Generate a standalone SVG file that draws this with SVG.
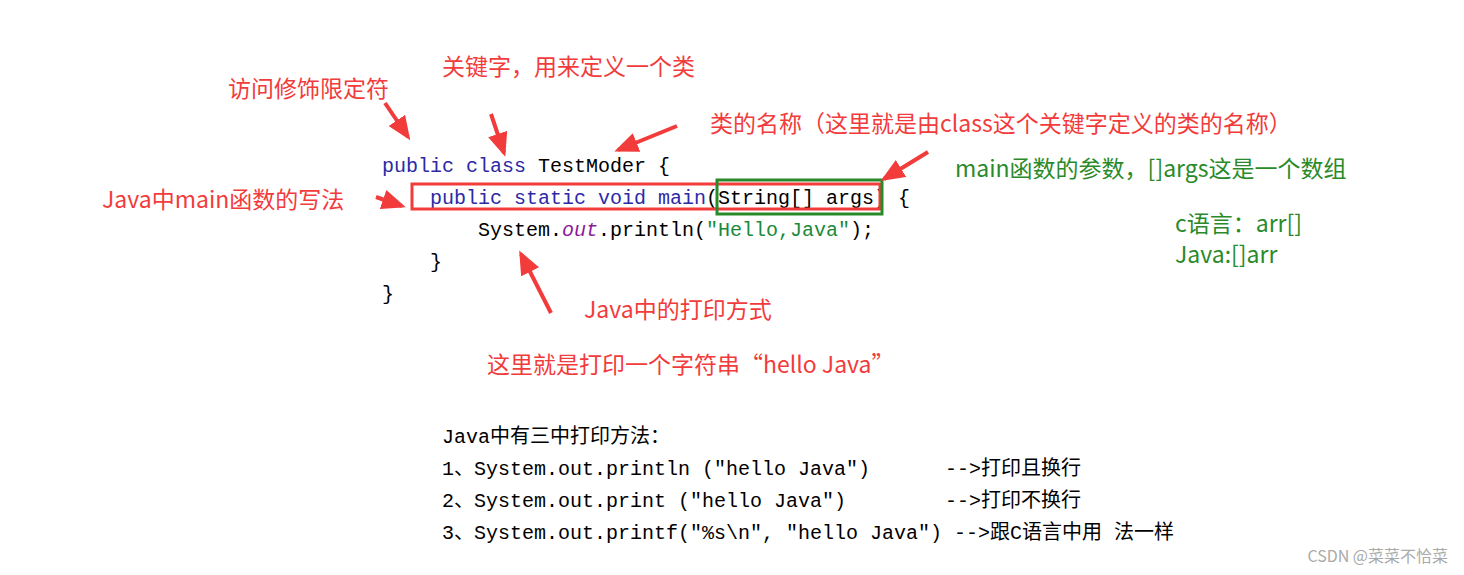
<svg xmlns="http://www.w3.org/2000/svg" width="1464" height="575" viewBox="0 0 1464 575">
<style>
.lbl{font-family:"Noto Sans CJK SC","Noto Sans",sans-serif;font-size:23px;fill:#f23b3b}
.glbl{font-family:"Noto Sans CJK SC","Noto Sans",sans-serif;font-size:23px;fill:#2a8a2a}
.code{font-family:"Liberation Mono","Noto Sans CJK SC",monospace;font-size:20px;fill:#000}
.kw{fill:#2b2ba6}
.arr{stroke:#f23b3b;stroke-width:4;fill:none;marker-end:url(#ah)}
</style>
<defs>
<marker id="ah" markerWidth="6" markerHeight="5" refX="5" refY="2.5" orient="auto" markerUnits="strokeWidth">
<path d="M0,0 L6,2.5 L0,5 Z" fill="#f23b3b"/>
</marker>
</defs>
<rect width="1464" height="575" fill="#fff"/>
<g id="code">
<text class="code" x="382" y="172"><tspan class="kw">public class</tspan> TestModer {</text>
<text class="code" x="430" y="204"><tspan class="kw">public static void main</tspan>(String[] args) {</text>
<text class="code" x="478" y="236">System.<tspan fill="#8a1a9a" font-style="italic">out</tspan>.println(<tspan fill="#1a8a3a">"Hello,Java"</tspan>);</text>
<text class="code" x="430" y="268">}</text>
<text class="code" x="382" y="300">}</text>
</g>
<g id="boxes">
<rect x="412" y="184" width="468" height="25" fill="none" stroke="#f23b3b" stroke-width="3"/>
<rect x="717" y="180" width="165" height="34" fill="none" stroke="#2a8a2a" stroke-width="3"/>
</g>
<g id="labels">
<text class="lbl" x="228" y="97">访问修饰限定符</text>
<text class="lbl" x="442" y="75">关键字，用来定义一个类</text>
<text class="lbl" x="710" y="132">类的名称（这里就是由class这个关键字定义的类的名称）</text>
<text class="lbl" x="102" y="208">Java中main函数的写法</text>
<text class="glbl" x="955" y="177">main函数的参数，[]args这是一个数组</text>
<text class="glbl" x="1175" y="232">c语言：arr[]</text>
<text class="glbl" x="1175" y="263">Java:[]arr</text>
<text class="lbl" x="584" y="318">Java中的打印方式</text>
<text class="lbl" x="487" y="373">这里就是打印一个字符串“hello Java”</text>
</g>
<g id="connectors">
<path class="arr" d="M385,103 L408,137"/>
<path class="arr" d="M491,114 L504,153"/>
<path class="arr" d="M677,126 L618,150"/>
<path class="arr" d="M928,152 L884,179"/>
<path class="arr" d="M376,197 L402,206"/>
<path class="arr" d="M551,313 L521,254"/>
</g>
<g id="notes">
<text class="code" x="442" y="443">Java中有三中打印方法：</text>
<text class="code" x="442" y="475">1、System.out.println ("hello Java")</text>
<text class="code" x="945" y="475">-->打印且换行</text>
<text class="code" x="442" y="507">2、System.out.print ("hello Java")</text>
<text class="code" x="945" y="507">-->打印不换行</text>
<text class="code" x="442" y="539">3、System.out.printf("%s\n", "hello Java") -->跟C语言中用 法一样</text>
</g>
<text x="1448" y="562" text-anchor="end" font-family="Noto Sans CJK SC,sans-serif" font-size="16" fill="#aaa">CSDN @菜菜不恰菜</text>
</svg>
